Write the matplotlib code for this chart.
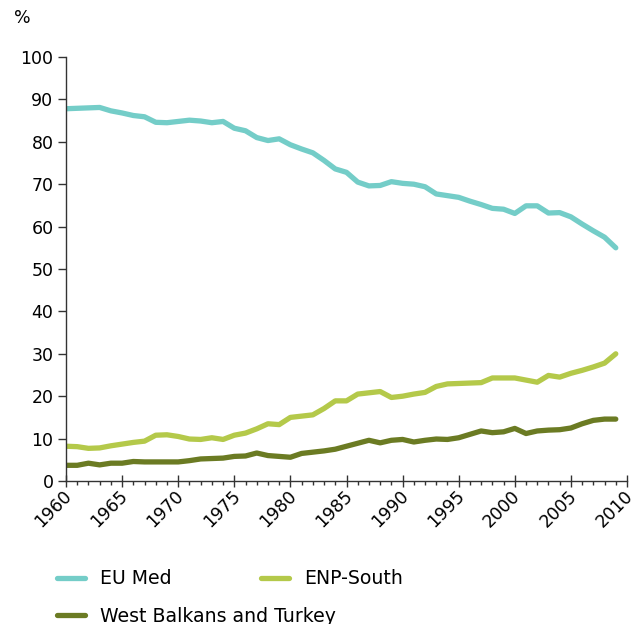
import matplotlib
matplotlib.use("Agg")
import matplotlib.pyplot as plt
import matplotlib.transforms as mtransforms
from matplotlib.ticker import MultipleLocator

# Share of population by region, 1960-2009 (%)
years = list(range(1960, 2010))

eu_med = [87.8, 87.9, 88.0, 88.1, 87.3, 86.8, 86.2, 85.9, 84.6, 84.5,
          84.8, 85.1, 84.9, 84.5, 84.8, 83.2, 82.6, 81.0, 80.3, 80.7,
          79.3, 78.3, 77.4, 75.6, 73.6, 72.8, 70.5, 69.6, 69.7, 70.6,
          70.2, 70.0, 69.4, 67.7, 67.3, 66.9, 66.0, 65.2, 64.3, 64.1,
          63.1, 64.9, 64.9, 63.2, 63.3, 62.3, 60.6, 59.0, 57.5, 55.0]

enp_south = [8.2, 8.1, 7.7, 7.8, 8.3, 8.7, 9.1, 9.4, 10.8, 10.9,
             10.5, 9.9, 9.8, 10.2, 9.8, 10.8, 11.3, 12.3, 13.5, 13.3,
             15.0, 15.3, 15.6, 17.1, 18.9, 18.9, 20.5, 20.8, 21.1, 19.7,
             20.0, 20.5, 20.9, 22.3, 22.9, 23.0, 23.1, 23.2, 24.3, 24.3,
             24.3, 23.8, 23.3, 24.9, 24.5, 25.4, 26.1, 26.9, 27.8, 30.0]

west_balkans = [3.7, 3.7, 4.2, 3.8, 4.2, 4.2, 4.6, 4.5, 4.5, 4.5,
                4.5, 4.8, 5.2, 5.3, 5.4, 5.8, 5.9, 6.6, 6.0, 5.8,
                5.6, 6.5, 6.8, 7.1, 7.5, 8.2, 8.9, 9.6, 9.0, 9.6,
                9.8, 9.2, 9.6, 9.9, 9.8, 10.2, 11.0, 11.8, 11.4, 11.6,
                12.4, 11.2, 11.8, 12.0, 12.1, 12.5, 13.5, 14.3, 14.6, 14.6]

plt.rcParams["font.family"] = ["DejaVu Sans"]

W, H = 633, 624
fig = plt.figure(figsize=(W / 100, H / 100), dpi=100)
ax = fig.add_axes([66 / W, 1 - 481 / H, 561 / W, 424 / H])

lw = 3.8
l1, = ax.plot(years, eu_med, color="#74cdc8", lw=lw, solid_capstyle="round",
              solid_joinstyle="round", label="EU Med")
l2, = ax.plot(years, enp_south, color="#b4c94a", lw=lw, solid_capstyle="round",
              solid_joinstyle="round", label="ENP-South")
l3, = ax.plot(years, west_balkans, color="#6b7b23", lw=lw, solid_capstyle="round",
              solid_joinstyle="round", label="West Balkans and Turkey")

ax.set_xlim(1960, 2010)
ax.set_ylim(0, 100)
ax.yaxis.set_major_locator(MultipleLocator(10))
ax.xaxis.set_major_locator(MultipleLocator(5))
ax.xaxis.set_minor_locator(MultipleLocator(1))

for s in ["top", "right"]:
    ax.spines[s].set_visible(False)
for s in ["left", "bottom"]:
    ax.spines[s].set_color("#333333")
    ax.spines[s].set_linewidth(1.0)

fs = 12.5
ax.tick_params(axis="y", direction="out", length=6, width=1, color="#333333",
               labelsize=fs, pad=3)
ax.tick_params(axis="x", which="major", direction="inout", length=8, width=1,
               color="#333333", labelsize=fs, pad=1.5)
ax.tick_params(axis="x", which="minor", direction="out", length=3, width=1,
               color="#333333")
# nudge rotated year labels a little right and down
shift = mtransforms.ScaledTranslation(3 / 100, -5 / 100, fig.dpi_scale_trans)
for lab in ax.get_xticklabels():
    lab.set_rotation(45)
    lab.set_ha("right")
    lab.set_va("center")
    lab.set_rotation_mode("anchor")
    lab.set_transform(lab.get_transform() + shift)

fig.text(14 / W, 1 - 18 / H, "%", fontsize=fs, ha="left", va="center")

# legend: first row two entries, second row one entry
leg_kw = dict(frameon=False, fontsize=13.6, handlelength=1.5,
              handletextpad=0.8, borderpad=0, borderaxespad=0,
              loc="center left")
leg1 = fig.legend([l1, l2], ["EU Med", "ENP-South"], ncol=2,
                  columnspacing=4.7, bbox_to_anchor=(57 / W, 1 - 579 / H),
                  **leg_kw)
leg2 = fig.legend([l3], ["West Balkans and Turkey"],
                  bbox_to_anchor=(57 / W, 1 - 616 / H), **leg_kw)

fig.savefig("out.png", dpi=100)
